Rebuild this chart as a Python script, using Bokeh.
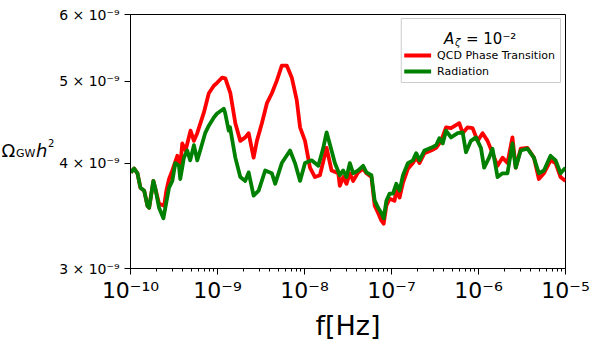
from bokeh.plotting import figure
from bokeh.layouts import row
from bokeh.models import Range1d, FixedTicker, CustomJSTickFormatter, LinearScale, Label
from bokeh.core.properties import value
from bokeh.embed import file_html
from bokeh.resources import INLINE

# ---- data (log10 of frequency in Hz, Omega_GW h^2 in units of 1e-9) ----
logf_qcd = [-9.997, -9.958, -9.920, -9.886, -9.843, -9.805, -9.786, -9.737, -9.714,
            -9.672, -9.614, -9.588, -9.557, -9.519, -9.462, -9.428, -9.405, -9.367,
            -9.310, -9.271, -9.233, -9.157, -9.100, -9.042, -9.005, -8.947, -8.910,
            -8.852, -8.795, -8.738, -8.681, -8.642, -8.585, -8.547, -8.490, -8.432,
            -8.375, -8.318, -8.261, -8.204, -8.146, -8.089, -8.051, -7.994, -7.937,
            -7.880, -7.823, -7.746, -7.689, -7.612, -7.594, -7.555, -7.517, -7.479,
            -7.440, -7.383, -7.326, -7.288, -7.231, -7.193, -7.154, -7.117, -7.090,
            -7.059, -7.022, -6.965, -6.945, -6.907, -6.868, -6.811, -6.754, -6.716,
            -6.679, -6.621, -6.545, -6.487, -6.430, -6.373, -6.316, -6.221, -6.182,
            -6.125, -6.068, -6.010, -5.953, -5.896, -5.839, -5.781, -5.724, -5.667,
            -5.610, -5.572, -5.515, -5.438, -5.363, -5.306, -5.248, -5.172, -5.114,
            -5.057, -5.000]
omega_qcd = [3.90, 3.94, 3.89, 3.74, 3.71, 3.56, 3.54, 3.81, 3.73,
             3.58, 3.56, 3.71, 3.83, 3.92, 4.08, 3.97, 4.22, 4.14,
             4.37, 4.25, 4.34, 4.59, 4.84, 4.94, 4.98, 5.05, 5.04,
             4.84, 4.46, 4.25, 4.29, 4.34, 4.06, 4.25, 4.46, 4.71,
             4.84, 5.01, 5.22, 5.22, 5.05, 4.75, 4.41, 4.25, 3.95,
             3.85, 3.87, 4.17, 3.92, 3.89, 3.76, 3.85, 3.78, 3.89,
             3.81, 3.90, 3.94, 3.89, 3.85, 3.56, 3.49, 3.42, 3.39,
             3.56, 3.63, 3.61, 3.71, 3.64, 3.79, 3.94, 4.00, 4.06,
             4.00, 4.11, 4.14, 4.17, 4.25, 4.41, 4.40, 4.46, 4.34,
             4.41, 4.40, 4.25, 4.34, 4.25, 4.11, 3.97, 4.06, 4.00,
             4.29, 3.95, 4.16, 4.17, 4.06, 3.83, 3.89, 4.03, 4.00,
             3.85, 3.81]

logf_rad = [-9.997, -9.958, -9.920, -9.886, -9.843, -9.805, -9.786, -9.737, -9.714,
            -9.672, -9.622, -9.600, -9.557, -9.519, -9.485, -9.443, -9.428, -9.386,
            -9.348, -9.314, -9.271, -9.233, -9.199, -9.142, -9.100, -9.042, -9.005,
            -8.928, -8.913, -8.871, -8.856, -8.795, -8.738, -8.681, -8.642, -8.585,
            -8.527, -8.452, -8.375, -8.337, -8.261, -8.166, -8.109, -8.051, -7.994,
            -7.918, -7.841, -7.784, -7.746, -7.689, -7.651, -7.594, -7.555, -7.517,
            -7.479, -7.440, -7.383, -7.326, -7.288, -7.231, -7.193, -7.154, -7.117,
            -7.090, -7.059, -7.022, -6.983, -6.945, -6.907, -6.868, -6.811, -6.754,
            -6.716, -6.679, -6.621, -6.545, -6.487, -6.450, -6.411, -6.373, -6.316,
            -6.239, -6.182, -6.144, -6.087, -6.030, -5.972, -5.935, -5.878, -5.839,
            -5.781, -5.724, -5.667, -5.610, -5.572, -5.515, -5.438, -5.363, -5.306,
            -5.248, -5.172, -5.114, -5.057, -5.000]
omega_rad = [3.90, 3.94, 3.89, 3.74, 3.71, 3.56, 3.54, 3.81, 3.73,
             3.54, 3.44, 3.54, 3.74, 3.81, 4.00, 3.97, 3.83, 4.06,
             4.14, 4.03, 4.20, 4.03, 4.14, 4.34, 4.43, 4.53, 4.58,
             4.64, 4.59, 4.37, 4.41, 4.06, 3.85, 3.81, 3.90, 3.66,
             3.71, 3.92, 3.89, 3.78, 4.00, 4.14, 4.00, 3.81, 4.00,
             4.03, 3.97, 4.17, 4.35, 4.14, 4.00, 3.87, 3.92, 3.85,
             4.00, 3.89, 3.92, 3.97, 3.90, 3.87, 3.61, 3.54, 3.49,
             3.44, 3.61, 3.68, 3.68, 3.78, 3.71, 3.87, 4.00, 4.03,
             4.11, 4.03, 4.14, 4.17, 4.20, 4.28, 4.22, 4.37, 4.29,
             4.34, 4.35, 4.12, 4.25, 4.29, 4.17, 3.95, 4.06, 4.16,
             3.85, 3.89, 3.89, 4.22, 3.95, 4.14, 4.16, 4.06, 3.89,
             3.92, 4.08, 4.03, 3.89, 3.95]

x_tick_exponents = [-10, -9, -8, -7, -6, -5]
y_tick_mantissas = [3, 4, 5, 6]
y_scale = 1e-9

series_labels = ["QCD Phase Transition", "Radiation"]
series_colors = ["#ff0000", "#008000"]

W, H = 590, 343
LW = 56                              # width of the y-label strip
FL, FR, FT, FB = 128, 25, 14, 75     # frame borders of the whole picture (px)
FW, FH = W - FL - FR, H - FT - FB    # frame size
FONT = "DejaVu Sans"

# ---------------- main plot ----------------
p = figure(width=W - LW, height=H, x_axis_type="log", y_axis_type="log",
           x_range=Range1d(1e-10, 1e-5), y_range=Range1d(3e-9, 6e-9),
           output_backend="svg", toolbar_location=None)
p.min_border_left = FL - LW
p.min_border_right = FR
p.min_border_top = FT
p.min_border_bottom = FB
p.background_fill_color = "white"
p.border_fill_color = "white"
p.outline_line_color = "black"
p.outline_line_width = 1
p.grid.visible = False

f_qcd = [10.0 ** v for v in logf_qcd]
f_rad = [10.0 ** v for v in logf_rad]
o_qcd = [v * y_scale for v in omega_qcd]
o_rad = [v * y_scale for v in omega_rad]

p.line(f_qcd, o_qcd, line_color=series_colors[0], line_width=3.8, line_join="round")
p.line(f_rad, o_rad, line_color=series_colors[1], line_width=3.8, line_join="round")

# x axis
majors = [10.0 ** e for e in x_tick_exponents]
minors = [k * 10.0 ** e for e in x_tick_exponents[:-1] for k in range(2, 10)]
p.xaxis.ticker = FixedTicker(ticks=majors, minor_ticks=minors)
p.xaxis.formatter = CustomJSTickFormatter(code="""
const sup = {'-':'\u207b','0':'\u2070','1':'\u00b9','2':'\u00b2','3':'\u00b3','4':'\u2074',
             '5':'\u2075','6':'\u2076','7':'\u2077','8':'\u2078','9':'\u2079'};
const e = String(Math.round(Math.log10(tick)));
let s = '';
for (const c of e) { s += sup[c]; }
return '10' + s;
""")
p.xaxis.major_label_text_font = FONT
p.xaxis.major_label_text_font_size = "22px"
p.xaxis.axis_label = "f[Hz]"
p.xaxis.axis_label_text_font = FONT
p.xaxis.axis_label_text_font_size = "27px"
p.xaxis.axis_label_text_font_style = "normal"
p.xaxis.axis_label_text_color = "black"
p.xaxis.axis_label_standoff = 4
p.xaxis.major_label_standoff = 3

# y axis
p.yaxis.ticker = FixedTicker(ticks=[m / 1e9 for m in y_tick_mantissas], minor_ticks=[])
p.yaxis.formatter = CustomJSTickFormatter(code="""
return Math.round(tick * 1e9) + ' \u00d7 10\u207b\u2079';
""")
p.yaxis.major_label_text_font = FONT
p.yaxis.major_label_text_font_size = "14px"
p.yaxis.major_label_standoff = 5

for ax in (p.xaxis, p.yaxis):
    ax.axis_line_color = "black"
    ax.major_tick_line_color = "black"
    ax.minor_tick_line_color = "black"
    ax.major_tick_in = 0
    ax.major_tick_out = 6
    ax.minor_tick_in = 0
    ax.minor_tick_out = 3
    ax.major_label_text_color = "black"

# ---------------- legend drawn in frame pixel coordinates ----------------
p.extra_x_ranges = {"px": Range1d(0, FW)}
p.extra_y_ranges = {"py": Range1d(FH, 0)}
p.extra_x_scales = {"px": LinearScale()}
p.extra_y_scales = {"py": LinearScale()}

def fx(x):          # picture x -> frame pixel x
    return x - FL

def fy(y):          # picture y -> frame pixel y (top-down)
    return y - FT

kw = dict(x_range_name="px", y_range_name="py")
p.quad(left=[fx(400)], right=[fx(560)], top=[fy(18)], bottom=[fy(82)],
       fill_color="white", fill_alpha=0.8, line_color="#cccccc", line_width=1, **kw)
for i, (lab_txt, col) in enumerate(zip(series_labels, series_colors)):
    yy = fy(55 + 16 * i)
    p.line([fx(403), fx(430)], [yy, yy], line_color=col, line_width=3.8, **kw)
    p.text([fx(436)], [yy], text=[lab_txt], text_font=value(FONT), text_font_size="11px",
           text_align="left", text_baseline="middle", text_color="black", **kw)

title_parts = [
    ("A", 443, 38, "15px", "italic"),
    ("\u03b6", 454, 42, "10px", "italic"),
    ("= 10\u207b\u00b2", 465, 38, "15px", "normal"),
]
for t, x, y, sz, st in title_parts:
    p.text([fx(x)], [fy(y)], text=[t], text_font=value(FONT), text_font_size=sz,
           text_font_style=st, text_align="left", text_baseline="alphabetic",
           text_color="black", **kw)

# ---------------- y-axis label strip ----------------
# the row aligns this strip's frame with the main frame (rows FT .. H-FB),
# so its y range is expressed in bottom-up picture pixels of that band
lab = figure(width=LW, height=H, x_range=Range1d(0, LW), y_range=Range1d(FB, H - FT),
             output_backend="svg", toolbar_location=None,
             x_axis_location=None, y_axis_location=None)
lab.min_border_left = lab.min_border_right = 0
lab.min_border_top = FT
lab.min_border_bottom = FB
lab.outline_line_color = None
lab.grid.visible = False
lab.background_fill_color = "white"
lab.border_fill_color = "white"

ylabel_parts = [
    ("\u03a9", 1, 150, "18px", "normal"),
    ("GW", 15.5, 153, "11px", "normal"),
    ("h", 35.5, 150, "18px", "italic"),
    ("2", 47.5, 142, "10px", "normal"),
]
for t, x, y, sz, st in ylabel_parts:
    lab.add_layout(Label(x=x, y=H - y, text=t, text_font=FONT, text_font_size=sz,
                         text_font_style=st, text_align="left",
                         text_baseline="alphabetic", text_color="black"))

layout = row(lab, p, spacing=0)
open("out.html", "w").write(file_html(layout, INLINE))
